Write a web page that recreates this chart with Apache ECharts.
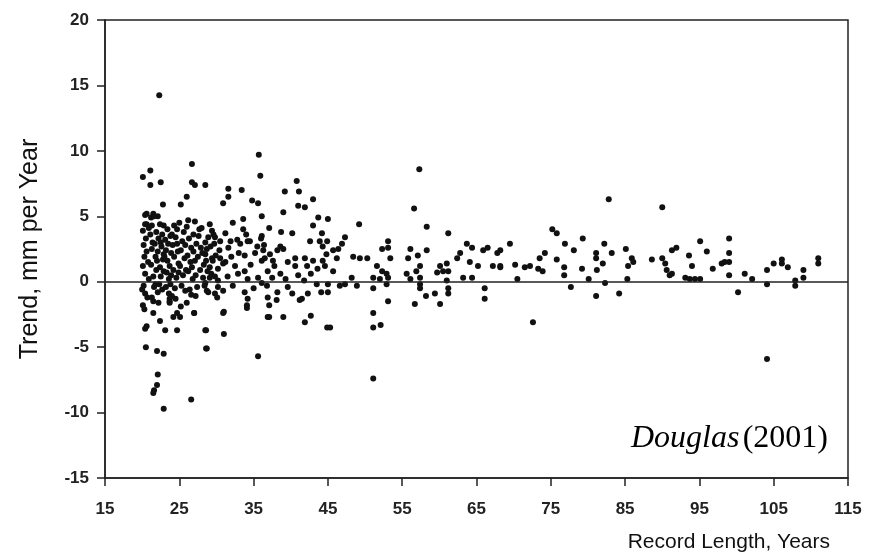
<!DOCTYPE html>
<html>
<head>
<meta charset="utf-8">
<script src="https://cdn.jsdelivr.net/npm/echarts@6/dist/echarts.min.js"></script>
<style>
html,body{margin:0;padding:0;background:#fff;}
#chart{width:886px;height:557px;}
</style>
</head>
<body>
<div id="chart"></div>
<script>
// Tick settings
var xTicks = [15, 25, 35, 45, 55, 65, 75, 85, 95, 105, 115];
var yTicks = [-15, -10, -5, 0, 5, 10, 15, 20];

// [record length (years), trend (mm per year)]
var stations20s = [
  [22.3,14.25],[21.1,8.5],[20.1,8.0],[21.1,7.4],[22.5,7.6],[26.7,9.0],[26.7,7.6],[27.1,7.4],[28.5,7.4],
  [22.8,5.9],[25.2,5.9],[26.0,6.5],[20.6,5.2],[21.5,5.2],[22.1,5.0],[26.2,4.7],[27.1,4.6],[20.6,4.4],
  [22.9,4.3],[24.7,4.0],[20.4,4.4],[21.3,4.3],
  [20.4,-0.9],[22.1,-0.8],[24.0,-1.1],[23.7,-1.5],[21.5,-1.5],[20.1,-1.8],[26.0,-1.6],[21.5,-2.4],
  [24.7,-2.4],[24.2,-2.7],[25.1,-2.7],[27.0,-2.4],[22.4,-3.0],[20.6,-3.4],[20.4,-3.6],[23.1,-3.7],
  [24.7,-3.7],[28.5,-3.7],[20.5,-5.0],[22.0,-5.3],[22.9,-5.5],[28.6,-5.1],[22.1,-7.1],[22.0,-7.9],
  [21.6,-8.3],[21.5,-8.5],[26.6,-9.0],[22.9,-9.7],[28.7,-5.1],[28.6,-3.7],[27.0,-2.4],[28.9,-0.8],
  [23.7,-1.3],[23.7,-1.6],[28.5,-0.1],[28.7,-0.7],[29.8,-0.9],[29.1,0.3],[28.5,2.1],[29.4,1.8],
  [29.1,1.1],[29.4,3.9],[29.8,3.4],
  [20.1,3.9],[20.2,2.8],[20.3,1.9],[20.1,1.2],[20.4,0.6],[20.2,-0.3],[20.6,2.3],[20.5,3.3],[20.8,1.5],
  [20.9,0.2],[20.7,-1.2],[20.3,-2.1],[20.9,4.1],[20.4,5.1],[20.0,-0.6],
  [21.1,3.6],[21.3,2.5],[21.2,1.3],[21.5,0.4],[21.6,-0.4],[21.4,3.0],[21.8,1.9],[21.7,2.9],[21.9,3.8],
  [21.2,4.9],[21.6,5.0],[21.9,0.9],[21.3,-1.2],[21.8,-0.2],
  [22.1,2.3],[22.2,3.3],[22.4,1.1],[22.5,0.4],[22.3,-0.2],[22.6,2.7],[22.8,1.7],[22.7,3.6],[22.9,2.1],
  [22.4,4.4],[22.9,0.8],[22.2,-1.6],[22.7,-0.6],[22.5,3.0],[22.0,1.6],
  [23.1,3.2],[23.2,2.4],[23.4,1.6],[23.3,0.7],[23.6,0.2],[23.5,2.9],[23.7,1.2],[23.8,3.5],[23.9,2.2],
  [23.2,-0.4],[23.6,-0.9],[23.9,0.5],[23.4,4.0],[23.0,1.9],[23.8,-0.2],
  [24.1,2.8],[24.3,1.9],[24.2,0.9],[24.5,3.4],[24.6,0.3],[24.4,-0.5],[24.8,2.3],[24.9,1.4],[24.7,2.9],
  [24.0,3.6],[24.5,-1.3],[24.9,0.7],[24.3,4.3],
  [25.2,2.4],[25.1,1.2],[25.4,3.1],[25.5,0.5],[25.3,-0.3],[25.7,1.8],[25.8,2.8],[25.9,0.9],[25.6,3.8],
  [25.2,-1.9],[25.8,-0.7],[25.0,4.5],
  [26.1,2.0],[26.3,3.3],[26.2,0.8],[26.5,1.5],[26.6,2.6],[26.8,0.2],[26.4,-0.6],[26.9,3.6],[26.7,1.1],
  [26.0,4.2],[26.6,-1.0],[26.9,2.3],
  [27.1,1.6],[27.3,2.9],[27.2,0.5],[27.6,3.5],[27.5,1.9],[27.8,0.9],[27.4,-0.4],[27.9,2.6],[27.7,4.0],
  [27.2,-1.1],
  [28.1,2.2],[28.3,1.3],[28.5,3.0],[28.2,0.3],[28.7,2.5],[28.8,0.8],[28.4,-0.3],[28.9,3.4],[28.6,1.6],
  [28.0,4.1],
  [29.2,2.7],[29.5,1.6],[29.3,0.6],[29.7,2.9],[29.8,0.4],[29.6,3.6],[29.1,4.4],[29.9,2.0]
];

var stations30s = [
  [35.7,9.7],[35.9,8.1],[40.8,7.7],[41.1,6.9],[39.2,6.9],[31.6,7.1],[31.6,6.5],[33.4,7.0],[30.9,6.0],
  [34.8,6.2],[35.6,6.0],[41.0,5.8],[41.9,5.7],[43.0,6.3],[39.0,5.3],[36.1,5.0],[43.7,4.9],[32.2,4.5],
  [33.6,4.8],[33.6,4.0],[37.1,4.1],[36.1,3.5],[38.7,3.8],[40.2,3.7],[43.0,4.3],[44.2,3.7],[42.6,3.1],
  [31.2,3.7],[34.5,3.1],[30.5,3.1],[36.0,3.3],[33.2,2.9],[32.8,3.2],[43.9,3.1],[35.5,2.7],[38.6,2.7],
  [39.0,2.5],[38.2,2.4],[36.3,2.4],[37.2,2.1],[36.5,1.8],[37.6,1.6],[33.8,2.0],[40.6,1.8],[41.9,1.8],
  [43.0,1.6],[44.3,1.6],[39.6,1.5],[41.0,0.5],[42.2,1.2],[30.5,1.8],[31.2,1.5],[30.2,1.0],[30.9,1.4],
  [32.5,1.2],[32.9,0.6],[33.8,0.8],[34.2,0.2],[35.6,0.3],[36.1,-0.1],[36.9,0.8],[37.5,0.3],[36.8,-0.3],
  [30.2,0.1],[30.9,-0.7],[33.8,-0.8],[34.2,-1.3],[36.9,-1.2],[38.2,-0.8],[40.2,-0.9],[41.5,-1.3],
  [42.3,-0.9],[43.5,-0.2],[34.1,-1.8],[37.1,-1.8],[30.9,-2.4],[36.9,-2.7],[39.0,-2.7],[41.9,-3.1],
  [42.7,-2.6],[35.6,-5.7],[31.0,-4.0],[31.0,-2.3],[34.1,-2.0],[37.1,-2.7],[44.9,-3.5],[44.1,-0.8],
  [41.2,-1.4],[30.1,-1.2],[34.2,3.1],
  [30.4,2.4],[31.6,2.6],[32.0,1.9],[33.0,2.2],[34.6,1.3],[35.2,2.2],[36.1,1.6],[37.8,1.2],[38.6,0.6],
  [39.3,0.2],[40.6,1.2],[41.8,0.1],[42.7,0.6],[43.6,1.0],[44.8,2.1],[31.5,0.4],[32.2,-0.3],[35.0,-0.5],
  [38.1,-1.4],[39.6,-0.4],[36.4,2.8],[34.0,3.6],[30.2,-0.4],[31.9,3.1]
];

var stations45to65 = [
  [57.3,8.6],[56.6,5.6],[58.3,4.2],[61.2,3.7],[49.2,4.4],[45.0,4.8],[44.9,3.1],[44.3,2.7],[45.7,2.4],
  [46.2,1.8],[47.3,3.4],[46.9,2.9],[46.4,2.5],[44.6,1.2],[45.7,0.8],[48.4,1.9],[49.3,1.8],[50.3,1.8],
  [45.0,-0.2],[46.6,-0.3],[47.3,-0.2],[48.2,0.3],[48.9,-0.3],[45.0,-0.8],[45.3,-3.5],
  [52.3,2.5],[53.1,3.1],[53.1,2.6],[53.4,1.8],[51.6,1.2],[52.3,0.8],[52.9,0.6],[51.1,0.3],[52.0,0.2],
  [52.9,-0.2],[51.1,-0.5],[53.1,0.3],[53.1,-1.5],[51.1,-2.4],[51.1,-3.5],[52.1,-3.3],[51.1,-7.4],
  [56.1,2.5],[55.8,1.8],[57.1,2.0],[58.3,2.4],[57.4,1.2],[56.9,0.8],[55.6,0.6],[56.1,0.2],[57.4,0.3],
  [57.4,-0.2],[57.4,-0.5],[56.7,-1.7],[58.2,-1.1],[59.4,-0.9],[60.1,-1.7],[61.2,-0.9],[61.2,-0.5],
  [61.0,0.1],[60.5,0.8],[60.1,1.2],[61.0,1.4],[61.2,0.8],[59.7,0.7],[62.4,1.8],[62.8,2.2],[63.7,2.9],
  [64.4,2.6],[63.2,0.3],[64.4,0.3],[64.1,1.5]
];

var stations65up = [
  [65.2,1.2],[65.9,2.4],[66.5,2.6],[66.1,-0.5],[66.1,-1.3],[67.2,1.2],[68.2,1.2],
  [82.8,6.3],[90.0,5.7],[75.2,4.0],[75.8,3.7],[69.5,2.9],[68.2,2.4],[67.8,2.2],[76.9,2.9],[78.1,2.4],
  [79.3,3.3],[82.2,2.9],[83.2,2.2],[85.1,2.5],[74.2,2.2],[73.5,1.8],[75.8,1.7],[81.1,2.2],[81.1,1.8],
  [82.0,1.4],[81.2,0.9],[79.2,1.0],[85.9,1.8],[86.1,1.5],[85.4,1.2],[88.6,1.7],[90.0,1.8],[90.4,1.4],
  [90.6,0.9],[91.0,0.5],[91.3,2.4],[68.2,1.1],[70.2,1.3],[71.5,1.1],[72.2,1.2],[73.3,1.0],[73.9,0.8],
  [76.8,1.1],[76.8,0.5],[70.5,0.2],[80.1,0.2],[82.3,-0.1],[85.3,0.2],[77.7,-0.4],[81.1,-1.1],[84.2,-0.9],
  [72.6,-3.1],
  [91.9,2.6],[95.1,3.1],[96.0,2.3],[93.6,2.0],[94.0,1.2],[91.3,0.6],[93.1,0.3],[93.7,0.2],[94.4,0.2],
  [95.1,0.2],[96.8,1.0],[98.0,1.4],[98.4,1.5],[99.0,3.3],[99.0,2.2],[99.0,1.5],[99.0,0.5],[101.1,0.6],
  [102.1,0.2],[100.2,-0.8],[104.1,0.9],[105.0,1.4],[106.1,1.7],[106.1,1.4],[106.9,1.1],[104.1,-0.2],
  [107.9,0.1],[107.9,-0.3],[109.0,0.3],[109.0,0.9],[111.0,1.8],[111.0,1.4],[104.1,-5.9]
];

var allStations = stations20s.concat(stations30s, stations45to65, stations65up);

var chart = echarts.init(document.getElementById('chart'));
var sans = 'Liberation Sans, Arial, Helvetica, sans-serif';
chart.setOption({
  animation: false,
  backgroundColor: '#ffffff',
  grid: {left: 105, right: 38, top: 20, bottom: 79, show: true, borderColor: '#222', borderWidth: 1.5, backgroundColor: 'transparent'},
  xAxis: {
    type: 'value', min: xTicks[0], max: xTicks[xTicks.length - 1], interval: 10,
    axisLine: {show: true, onZero: false, lineStyle: {color: '#222', width: 1.5}},
    axisTick: {show: true, inside: false, length: 8, lineStyle: {color: '#222', width: 1.5}},
    axisLabel: {margin: 23, fontFamily: sans, fontSize: 17, fontWeight: 'bold', color: '#222'},
    splitLine: {show: false}
  },
  yAxis: {
    type: 'value', min: yTicks[0], max: yTicks[yTicks.length - 1], interval: 5,
    name: 'Trend, mm per Year', nameLocation: 'middle', nameGap: 62, nameRotate: 90,
    nameTextStyle: {fontFamily: sans, fontSize: 25, color: '#111'},
    axisLine: {show: true, onZero: false, lineStyle: {color: '#222', width: 1.5}},
    axisTick: {show: true, inside: false, length: 8, lineStyle: {color: '#222', width: 1.5}},
    axisLabel: {margin: 16, fontFamily: sans, fontSize: 17, fontWeight: 'bold', color: '#222'},
    splitLine: {show: false}
  },
  graphic: [
    {type: 'text', right: 56, top: 532, style: {text: 'Record Length, Years', font: '21px "Liberation Sans", Arial, sans-serif', fill: '#111'}},
    {type: 'text', right: 58, top: 423, style: {
      text: '{i|Douglas} {n|(2001)}',
      rich: {
        i: {fontFamily: 'Liberation Serif, Times New Roman, serif', fontStyle: 'italic', fontSize: 32, color: '#111'},
        n: {fontFamily: 'Liberation Serif, Times New Roman, serif', fontSize: 32, color: '#111'}
      }
    }}
  ],
  series: [{
    type: 'scatter',
    data: allStations,
    symbol: 'circle',
    symbolSize: 6,
    itemStyle: {color: '#111', opacity: 1},
    markLine: {
      silent: true, symbol: 'none', label: {show: false},
      lineStyle: {color: '#222', width: 1.5, type: 'solid'},
      data: [{yAxis: 0}]
    }
  }]
});
</script>
</body>
</html>
